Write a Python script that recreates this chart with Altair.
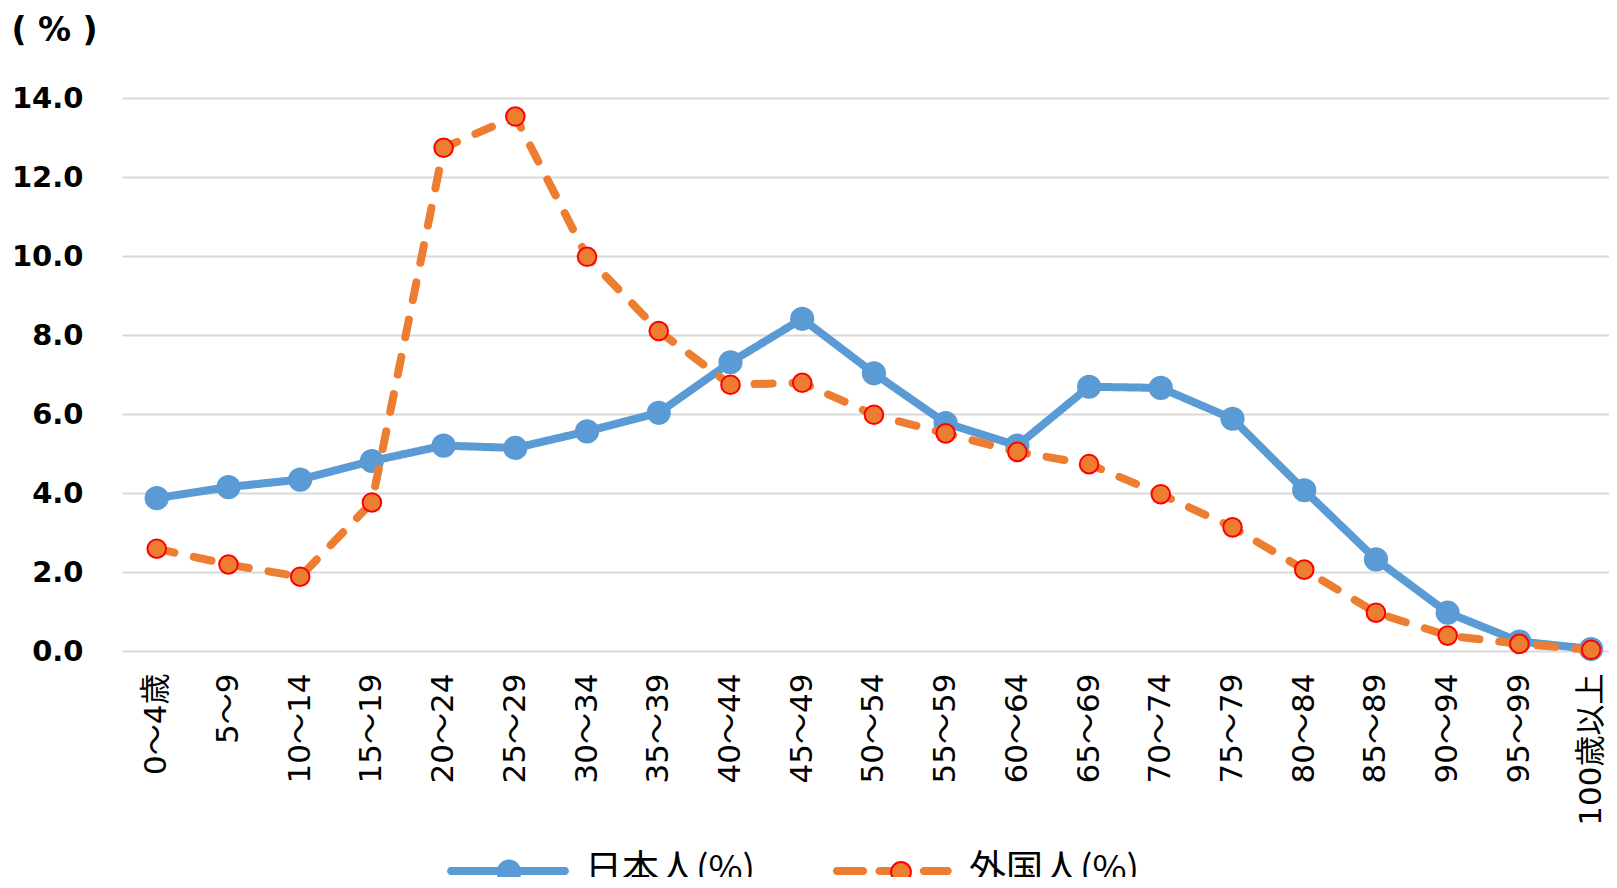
import altair as alt
import pandas as pd

# ---- data ----
ages = ["0～4歳", "5～9", "10～14", "15～19", "20～24", "25～29", "30～34",
        "35～39", "40～44", "45～49", "50～54", "55～59", "60～64", "65～69",
        "70～74", "75～79", "80～84", "85～89", "90～94", "95～99", "100歳以上"]
japanese = [3.87, 4.15, 4.34, 4.81, 5.20, 5.14, 5.56, 6.03, 7.31, 8.41, 7.03,
            5.77, 5.20, 6.69, 6.66, 5.88, 4.07, 2.32, 0.97, 0.24, 0.05]
foreign = [2.59, 2.19, 1.88, 3.76, 12.74, 13.53, 9.98, 8.10, 6.74, 6.79, 5.98,
           5.51, 5.04, 4.73, 3.97, 3.13, 2.06, 0.97, 0.39, 0.18, 0.03]
series = ["日本人(%)", "外国人(%)"]
y_ticks = [0, 2, 4, 6, 8, 10, 12, 14]
unit_label = "( % )"

# ---- styles ----
line_colors = ["#5B9BD5", "#ED7D31"]
edge_colors = ["#5B9BD5", "#FF0000"]
dashes = [[1, 0], [18, 20]]
ZW = "\u200b"
keys = [s + ZW for s in series]
SYM = 14400  # symbol area -> unit of custom paths = 60 px


def circle_path(r, cx=0.0):
    k = 0.5523 * r
    return (f"M{cx - r},0 C{cx - r},{-k} {cx - k},{-r} {cx},{-r} "
            f"C{cx + k},{-r} {cx + r},{-k} {cx + r},0 "
            f"C{cx + r},{k} {cx + k},{r} {cx},{r} "
            f"C{cx - k},{r} {cx - r},{k} {cx - r},0 Z")


def capsule(x0, x1, h):
    k = 0.5523 * h
    return (f"M{x0},{-h} L{x1},{-h} C{x1 + k},{-h} {x1 + h},{-k} {x1 + h},0 "
            f"C{x1 + h},{k} {x1 + k},{h} {x1},{h} L{x0},{h} "
            f"C{x0 - k},{h} {x0 - h},{k} {x0 - h},0 "
            f"C{x0 - h},{-k} {x0 - k},{-h} {x0},{-h} Z")


H = 0.066
marker_shapes = [circle_path(0.185), circle_path(0.155)]
legend_lines = [capsule(-0.95, 0.95, H),
                capsule(-0.92, -0.48, H) + " " + capsule(-0.21, 0.0, H) + " "
                + capsule(0.53, 0.93, H)]
legend_dots = [circle_path(0.19), circle_path(0.165, 0.1)]

rows = []
for s, k, vals in zip(series, keys, [japanese, foreign]):
    for i, (a, v) in enumerate(zip(ages, vals)):
        rows.append({"age": a, "value": v, "s": s, "k": k, "i": i})
df = pd.DataFrame(rows)

x_enc = alt.X("age:N", sort=ages,
              scale=alt.Scale(type="point", padding=0.367, align=0.66),
              axis=alt.Axis(title=None, labelAngle=270, labelPadding=22,
                            labelFont="'DejaVu Sans', 'Noto Sans CJK JP'",
                            labelFontSize=31, labelColor="#000000",
                            ticks=False, domain=False, grid=False,
                            labelOverlap=False, labelLimit=0))
y_enc = alt.Y("value:Q",
              scale=alt.Scale(domain=[0, 14], nice=False, zero=True),
              axis=alt.Axis(values=y_ticks, format=".1f", title=unit_label,
                            titleAngle=0, titleX=-111, titleY=-68,
                            titleAlign="left", titleBaseline="middle",
                            titleFont="DejaVu Sans", titleFontSize=33,
                            titleFontWeight="bold", titleColor="#000000",
                            labelFont="DejaVu Sans", labelFontWeight="bold",
                            labelFontSize=29, labelColor="#000000",
                            labelPadding=39, ticks=False, domain=False,
                            grid=True, gridColor="#d9d9d9", gridWidth=2))

leg_common = dict(title=None, orient="none", legendX=326, legendY=713,
                  direction="horizontal", padding=0, labelOffset=17,
                  columnPadding=76, labelFont="Noto Sans CJK JP",
                  labelFontSize=37, labelColor="#000000", labelLimit=0,
                  symbolSize=SYM)
legA = alt.Legend(symbolStrokeWidth=0, **leg_common)
legB = alt.Legend(symbolStrokeWidth=2, labelOpacity=0, **leg_common)

layers = []
for idx, s in enumerate(series):
    base = alt.Chart(df).transform_filter(alt.datum.s == s)
    line = base.mark_line(strokeWidth=8, strokeCap="round", strokeJoin="round",
                          color=line_colors[idx],
                          strokeDash=dashes[idx]).encode(
        x=x_enc, y=y_enc, order="i:Q")
    pts = base.mark_point(filled=True, opacity=1, size=SYM, strokeWidth=2,
                          shape=marker_shapes[idx], fill=line_colors[idx],
                          stroke=edge_colors[idx]).encode(x=x_enc, y=y_enc)
    layers += [line, pts]

# legend-only layers (no rows drawn)
legend_a = alt.Chart(df).transform_filter("false").mark_point(
    filled=True, opacity=1).encode(
    color=alt.Color("s:N", scale=alt.Scale(domain=series, range=line_colors),
                    legend=legA),
    shape=alt.Shape("s:N", scale=alt.Scale(domain=series, range=legend_lines),
                    legend=legA),
)
legend_b = alt.Chart(df).transform_filter("false").mark_point(
    filled=True, opacity=1).encode(
    fill=alt.Fill("k:N", scale=alt.Scale(domain=keys, range=line_colors),
                  legend=legB),
    stroke=alt.Stroke("k:N", scale=alt.Scale(domain=keys, range=edge_colors),
                      legend=legB),
    shape=alt.Shape("k:N", scale=alt.Scale(domain=keys, range=legend_dots),
                    legend=legB),
)
layers += [legend_a, legend_b]

chart = alt.layer(*layers).resolve_scale(
    color="independent", fill="independent", stroke="independent",
    shape="independent"
).properties(
    width=1487, height=553,
    autosize=alt.AutoSizeParams(type="none"),
    padding={"left": 114, "top": 90, "right": 0, "bottom": 226},
    background="#ffffff",
).configure_view(stroke=None)

chart.save("out.html", embed_options={"renderer": "svg", "actions": False})
